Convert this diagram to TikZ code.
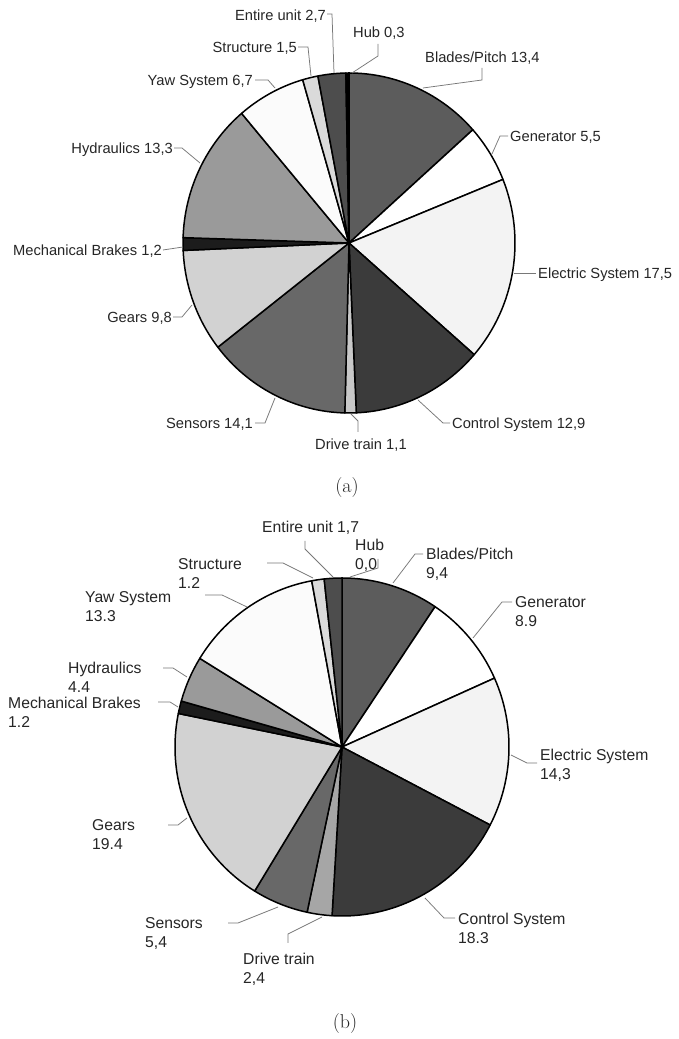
\documentclass[tikz,border=0pt]{standalone}
\usepackage{fontspec}
\setsansfont{Liberation Sans}
\usetikzlibrary{calc}
\definecolor{cBlade}{HTML}{5C5C5C}
\definecolor{cGen}{HTML}{FFFFFF}
\definecolor{cElec}{HTML}{F3F3F3}
\definecolor{cCtrl}{HTML}{3B3B3B}
\definecolor{cDriveA}{HTML}{C8C8C8}
\definecolor{cDriveB}{HTML}{A6A6A6}
\definecolor{cSens}{HTML}{686868}
\definecolor{cGear}{HTML}{D2D2D2}
\definecolor{cBrake}{HTML}{1C1C1C}
\definecolor{cHyd}{HTML}{9A9A9A}
\definecolor{cYaw}{HTML}{FBFBFB}
\definecolor{cStruct}{HTML}{DADADA}
\definecolor{cEntire}{HTML}{4D4D4D}
\definecolor{cHub}{HTML}{000000}
\definecolor{cLead}{HTML}{787878}
\definecolor{cText}{HTML}{262626}
\tikzset{
  slice/.style={draw=black, line width=1.5pt, line join=round},
  leader/.style={draw=cLead, line width=0.75pt},
  lblA/.style={font=\sffamily\fontsize{14.7}{17}\selectfont, inner sep=0pt, text=cText},
  lblB/.style={font=\sffamily\fontsize{15.7}{18.6}\selectfont, inner sep=0pt, text=cText},
  capt/.style={font=\fontsize{20}{23}\selectfont, inner sep=0pt, text=cText}
}
\newcommand{\twol}[2]{\begin{tabular}[t]{@{}l@{}}#1\\#2\end{tabular}}
\begin{document}
\begin{tikzpicture}[x=1pt,y=1pt]
\useasboundingbox[fill=white] (0,0) rectangle (678,1039);
% ---------------- pie (a) ----------------
\coordinate (A) at (349,796);
\foreach \a/\b/\c in {90/41.76/cBlade, 41.76/21.96/cGen, 21.96/-41.04/cElec,
  -41.04/-87.48/cCtrl, -87.48/-91.44/cDriveA, -91.44/-142.2/cSens,
  -142.2/-177.48/cGear, -177.48/-181.8/cBrake, -181.8/-229.68/cHyd,
  -229.68/-253.8/cYaw, -253.8/-259.2/cStruct, -259.2/-268.92/cEntire,
  -268.92/-270/cHub}{
  \filldraw[slice, fill=\c] (A) -- ++(\a:166 and 170)
    arc[start angle=\a, end angle=\b, x radius=166, y radius=170] -- cycle;
}
% labels (a)
\node[lblA, anchor=base west] (a1) at (425,976.7) {Blades/Pitch 13,4};
\node[lblA, anchor=base west] (a2) at (510,897.7) {Generator 5,5};
\node[lblA, anchor=base west] (a3) at (538,760.7) {Electric System 17,5};
\node[lblA, anchor=base west] (a4) at (452,610.7) {Control System 12,9};
\node[lblA, anchor=base west] (a5) at (315,589.7) {Drive train 1,1};
\node[lblA, anchor=base east] (a6) at (253,610.7) {Sensors 14,1};
\node[lblA, anchor=base east] (a7) at (172,716.7) {Gears 9,8};
\node[lblA, anchor=base east] (a8) at (162,783.7) {Mechanical Brakes 1,2};
\node[lblA, anchor=base east] (a9) at (173,885.7) {Hydraulics 13,3};
\node[lblA, anchor=base east] (a10) at (253,953.7) {Yaw System 6,7};
\node[lblA, anchor=base east] (a11) at (297,986.7) {Structure 1,5};
\node[lblA, anchor=base east] (a12) at (326,1018.7) {Entire unit 2,7};
\node[lblA, anchor=base west] (a13) at (353,1001.7) {Hub 0,3};
% leader points (a)
\coordinate (pa1) at (423,951);
\coordinate (pa2) at (492,885);
\coordinate (pa3) at (514,766);
\coordinate (pa4) at (418,639);
\coordinate (pa5) at (351,625);
\coordinate (pa6) at (275,641);
\coordinate (pa7) at (192,734);
\coordinate (pa8) at (183,792);
\coordinate (pa9) at (200,876);
\coordinate (pa10) at (275,951);
\coordinate (pa11) at (311,963);
\coordinate (pa12) at (334,966);
\coordinate (pa13) at (352,966);
\draw[leader] (482,971) -- (482,959) -- (pa1);
\draw[leader] (508,903) -- (500,903) -- (pa2);
\draw[leader] (pa3) -- (536,766);
\draw[leader] (450,616) -- (443,616) -- (pa4);
\draw[leader] (358,607) -- (358,618) -- (pa5);
\draw[leader] (255,616) -- (265,616) -- (pa6);
\draw[leader] (173,722) -- (182,722) -- (pa7);
\draw[leader] (163,789) -- (pa8);
\draw[leader] (174,891) -- (182,891) -- (pa9);
\draw[leader] (255,959) -- (268,959) -- (pa10);
\draw[leader] (298,992) -- (308,992) -- (pa11);
\draw[leader] (327,1025) -- (332,1025) -- (pa12);
\draw[leader] (378,995) -- (378,983) -- (pa13);
\node[capt] (capa) at (347,551) {(a)};
% ---------------- pie (b) ----------------
\coordinate (B) at (342,292);
\foreach \a/\b/\c in {90/56.13/cBlade, 56.13/24.05/cGen, 24.05/-27.48/cElec,
  -27.48/-93.42/cCtrl, -93.42/-102.07/cDriveB, -102.07/-121.53/cSens,
  -121.53/-191.44/cGear, -191.44/-195.77/cBrake, -195.77/-211.62/cHyd,
  -211.62/-259.55/cYaw, -259.55/-263.87/cStruct, -263.87/-270/cEntire}{
  \filldraw[slice, fill=\c] (B) -- ++(\a:167 and 169)
    arc[start angle=\a, end angle=\b, x radius=167, y radius=169] -- cycle;
}
% labels (b)
\node[lblB, anchor=base west] (b1) at (426,479.4) {\twol{Blades/Pitch}{9,4}};
\node[lblB, anchor=base west] (b2) at (515,431.4) {\twol{Generator}{8.9}};
\node[lblB, anchor=base west] (b3) at (540,278.4) {\twol{Electric System}{14,3}};
\node[lblB, anchor=base west] (b4) at (458,114.4) {\twol{Control System}{18.3}};
\node[lblB, anchor=base west] (b5) at (243,74.4) {\twol{Drive train}{2,4}};
\node[lblB, anchor=base west] (b6) at (145,110.4) {\twol{Sensors}{5,4}};
\node[lblB, anchor=base west] (b7) at (92,208.4) {\twol{Gears}{19.4}};
\node[lblB, anchor=base west] (b8) at (8,330.4) {\twol{Mechanical Brakes}{1.2}};
\node[lblB, anchor=base west] (b9) at (68,365.4) {\twol{Hydraulics}{4.4}};
\node[lblB, anchor=base west] (b10) at (85,436.4) {\twol{Yaw System}{13.3}};
\node[lblB, anchor=base west] (b11) at (178,469.4) {\twol{Structure}{1.2}};
\node[lblB, anchor=base west] (b12) at (262,506.4) {Entire unit 1,7};
\node[lblB, anchor=base west] (b13) at (355,488.4) {\twol{Hub}{0,0}};
% leader points (b)
\coordinate (pb1) at (393,456);
\coordinate (pb2) at (473,401);
\coordinate (pb3) at (511,284);
\coordinate (pb4) at (425,141);
\coordinate (pb5) at (322,122);
\coordinate (pb6) at (278,132);
\coordinate (pb7) at (187,221);
\coordinate (pb8) at (178,332);
\coordinate (pb9) at (187,362);
\coordinate (pb10) at (247,432);
\coordinate (pb11) at (313,461);
\coordinate (pb12) at (333,462);
\coordinate (pb13) at (350,462);
\draw[leader] (423,485) -- (415,485) -- (pb1);
\draw[leader] (512,437) -- (502,437) -- (pb2);
\draw[leader] (pb3) -- (527,276) -- (537,276);
\draw[leader] (455,121) -- (444,121) -- (pb4);
\draw[leader] (288,96) -- (288,105) -- (pb5);
\draw[leader] (228,116) -- (238,116) -- (pb6);
\draw[leader] (168,214) -- (178,214) -- (pb7);
\draw[leader] (158,337) -- (170,337) -- (pb8);
\draw[leader] (163,371) -- (173,371) -- (pb9);
\draw[leader] (205,444) -- (222,444) -- (pb10);
\draw[leader] (267,476) -- (283,476) -- (pb11);
\draw[leader] (305,498) -- (305,490) -- (pb12);
\draw[leader] (378,480) -- (378,471) -- (pb13);
\node[capt] (capb) at (345,15) {(b)};
\end{tikzpicture}
\end{document}
